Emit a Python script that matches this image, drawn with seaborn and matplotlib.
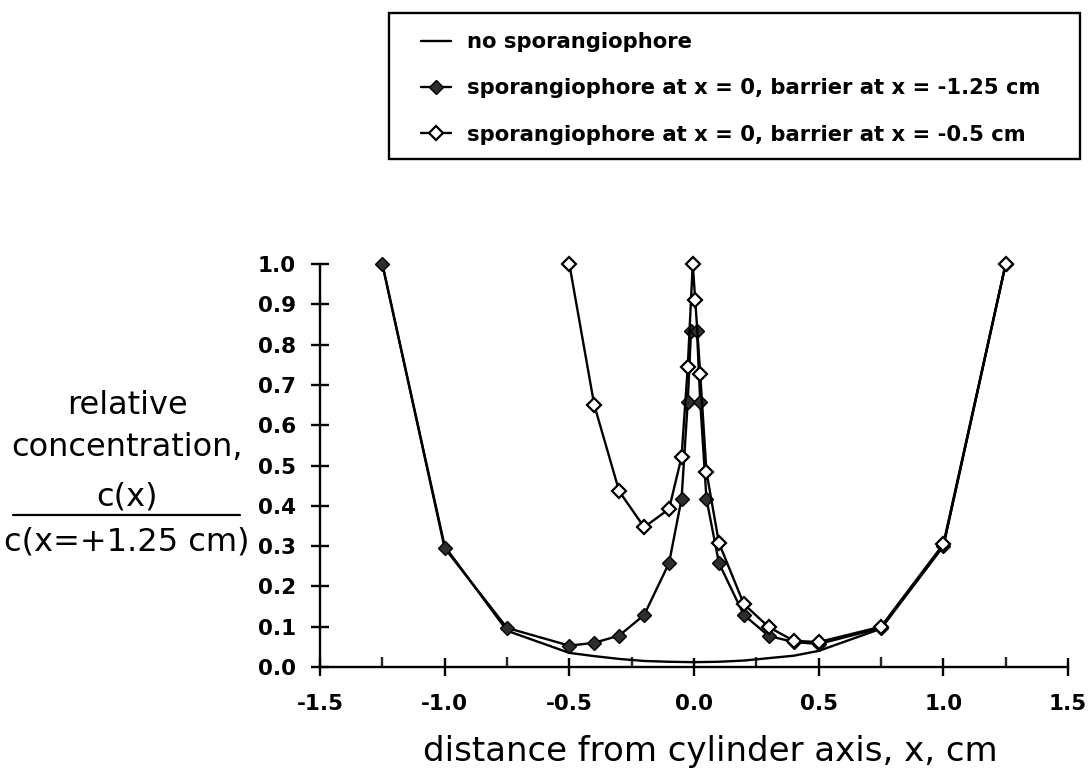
import matplotlib
matplotlib.use("Agg")
import numpy as np
import pandas as pd
import seaborn as sns
import matplotlib.pyplot as plt
from matplotlib.ticker import MultipleLocator
from matplotlib.lines import Line2D
from matplotlib.patches import Rectangle

# ---- data ----
x_none = [-1.25, -1.0, -0.75, -0.5, -0.4, -0.3, -0.2, -0.1, 0.0, 0.1, 0.2, 0.3, 0.4, 0.5, 0.75, 1.0, 1.25]
c_none = [1.0, 0.30, 0.09, 0.035, 0.027, 0.02, 0.015, 0.013, 0.012, 0.013, 0.016, 0.022, 0.028, 0.04, 0.095, 0.30, 1.0]

x_far = [-1.25, -1.0, -0.75, -0.5, -0.4, -0.3, -0.2, -0.1, -0.05, -0.025, -0.012,
         0.012, 0.025, 0.05, 0.1, 0.2, 0.3, 0.4, 0.5, 0.75, 1.0, 1.25]
c_far = [1.0, 0.295, 0.097, 0.053, 0.06, 0.078, 0.129, 0.258, 0.417, 0.658, 0.834,
         0.834, 0.658, 0.417, 0.258, 0.129, 0.077, 0.062, 0.057, 0.097, 0.30, 1.0]

x_near = [-0.5, -0.4, -0.3, -0.2, -0.1, -0.05, -0.025, -0.005, 0.005, 0.025, 0.05,
          0.1, 0.2, 0.3, 0.4, 0.5, 0.75, 1.0, 1.25]
c_near = [1.0, 0.65, 0.436, 0.347, 0.392, 0.521, 0.745, 1.0, 0.91, 0.727, 0.484,
          0.308, 0.156, 0.099, 0.065, 0.062, 0.10, 0.305, 1.0]

labels = ["no sporangiophore",
          "sporangiophore at x = 0, barrier at x = -1.25 cm",
          "sporangiophore at x = 0, barrier at x = -0.5 cm"]
x_ticks = [-1.5, -1.0, -0.5, 0.0, 0.5, 1.0, 1.5]
y_ticks = [0.0, 0.1, 0.2, 0.3, 0.4, 0.5, 0.6, 0.7, 0.8, 0.9, 1.0]

sns.set_theme(style="white")
plt.rcParams["font.family"] = ["DejaVu Sans"]
plt.rcParams["text.color"] = "black"
plt.rcParams["legend.labelcolor"] = "black"

W, H = 1092, 769
fig = plt.figure(figsize=(W / 100, H / 100), dpi=100)
ax = fig.add_axes([320 / W, (H - 667) / H, (1068 - 320) / W, (667 - 264) / H])

lw = 1.7
sns.lineplot(x=x_none, y=c_none, ax=ax, sort=False, estimator=None, color="black",
             linewidth=lw, label=labels[0], zorder=2)
sns.lineplot(x=x_far, y=c_far, ax=ax, sort=False, estimator=None, color="black",
             linewidth=lw, marker="D", markersize=7.4, markerfacecolor="#2e2e2e",
             markeredgecolor="black", markeredgewidth=1.0, label=labels[1], zorder=3,
             clip_on=False)
sns.lineplot(x=x_near, y=c_near, ax=ax, sort=False, estimator=None, color="black",
             linewidth=lw, marker="D", markersize=7.4, markerfacecolor="white",
             markeredgecolor="black", markeredgewidth=1.6, label=labels[2], zorder=4,
             clip_on=False)

ax.set_xlim(-1.5, 1.5)
ax.set_ylim(0, 1.0)
ax.set_xticks(x_ticks)
ax.set_xticklabels([f"{v:.1f}" for v in x_ticks])
ax.set_yticks(y_ticks)
ax.set_yticklabels([f"{v:.1f}" for v in y_ticks])
ax.xaxis.set_minor_locator(MultipleLocator(0.25))

for s in ["top", "right"]:
    ax.spines[s].set_visible(False)
for s in ["left", "bottom"]:
    ax.spines[s].set_linewidth(1.7)
    ax.spines[s].set_color("black")

ax.tick_params(axis="x", which="major", direction="inout", length=13, width=1.7,
               pad=13, labelsize=15.5, colors="black", bottom=True)
ax.tick_params(axis="x", which="minor", direction="in", length=7, width=1.7, bottom=True)
ax.tick_params(axis="y", which="major", direction="inout", length=13, width=1.7,
               pad=11, labelsize=15.5, colors="black", left=True)
for t in ax.get_xticklabels() + ax.get_yticklabels():
    t.set_fontweight("bold")

ax.set_xlabel("")
ax.set_ylabel("")

# axis titles
fig.text(710 / W, 1 - 752 / H, "distance from cylinder axis, x, cm", ha="center",
         va="center", fontsize=24.5, color="black")
fs_lab = 23
ylab_x = 127 / W
fig.text(ylab_x, 1 - 405 / H, "relative", ha="center", va="center", fontsize=fs_lab, color="black")
fig.text(ylab_x, 1 - 447 / H, "concentration,", ha="center", va="center", fontsize=fs_lab, color="black")
fig.text(ylab_x, 1 - 497 / H, "c(x)", ha="center", va="center", fontsize=fs_lab, color="black")
fig.add_artist(Line2D([13 / W, 240 / W], [1 - 515 / H, 1 - 515 / H],
                      transform=fig.transFigure, color="black", linewidth=1.6))
fig.text(ylab_x, 1 - 542 / H, "c(x=+1.25 cm)", ha="center", va="center", fontsize=fs_lab, color="black")

# legend (frame drawn separately)
handles, labs = ax.get_legend_handles_labels()
if ax.get_legend() is not None:
    ax.get_legend().remove()
leg = fig.legend(handles, labs, loc="upper left", bbox_to_anchor=(421 / W, 1 - 32 / H),
                 frameon=False,
                 prop={"family": "DejaVu Sans", "weight": "bold", "size": 15.2},
                 handlelength=1.4, handletextpad=0.8, borderpad=0, labelspacing=1.25,
                 borderaxespad=0, labelcolor="black")
fig.add_artist(Rectangle((389 / W, 1 - 159 / H), (1080 - 389) / W, (159 - 13) / H,
                         transform=fig.transFigure, fill=False, edgecolor="black",
                         linewidth=1.7))

fig.savefig("out.png", dpi=100)
